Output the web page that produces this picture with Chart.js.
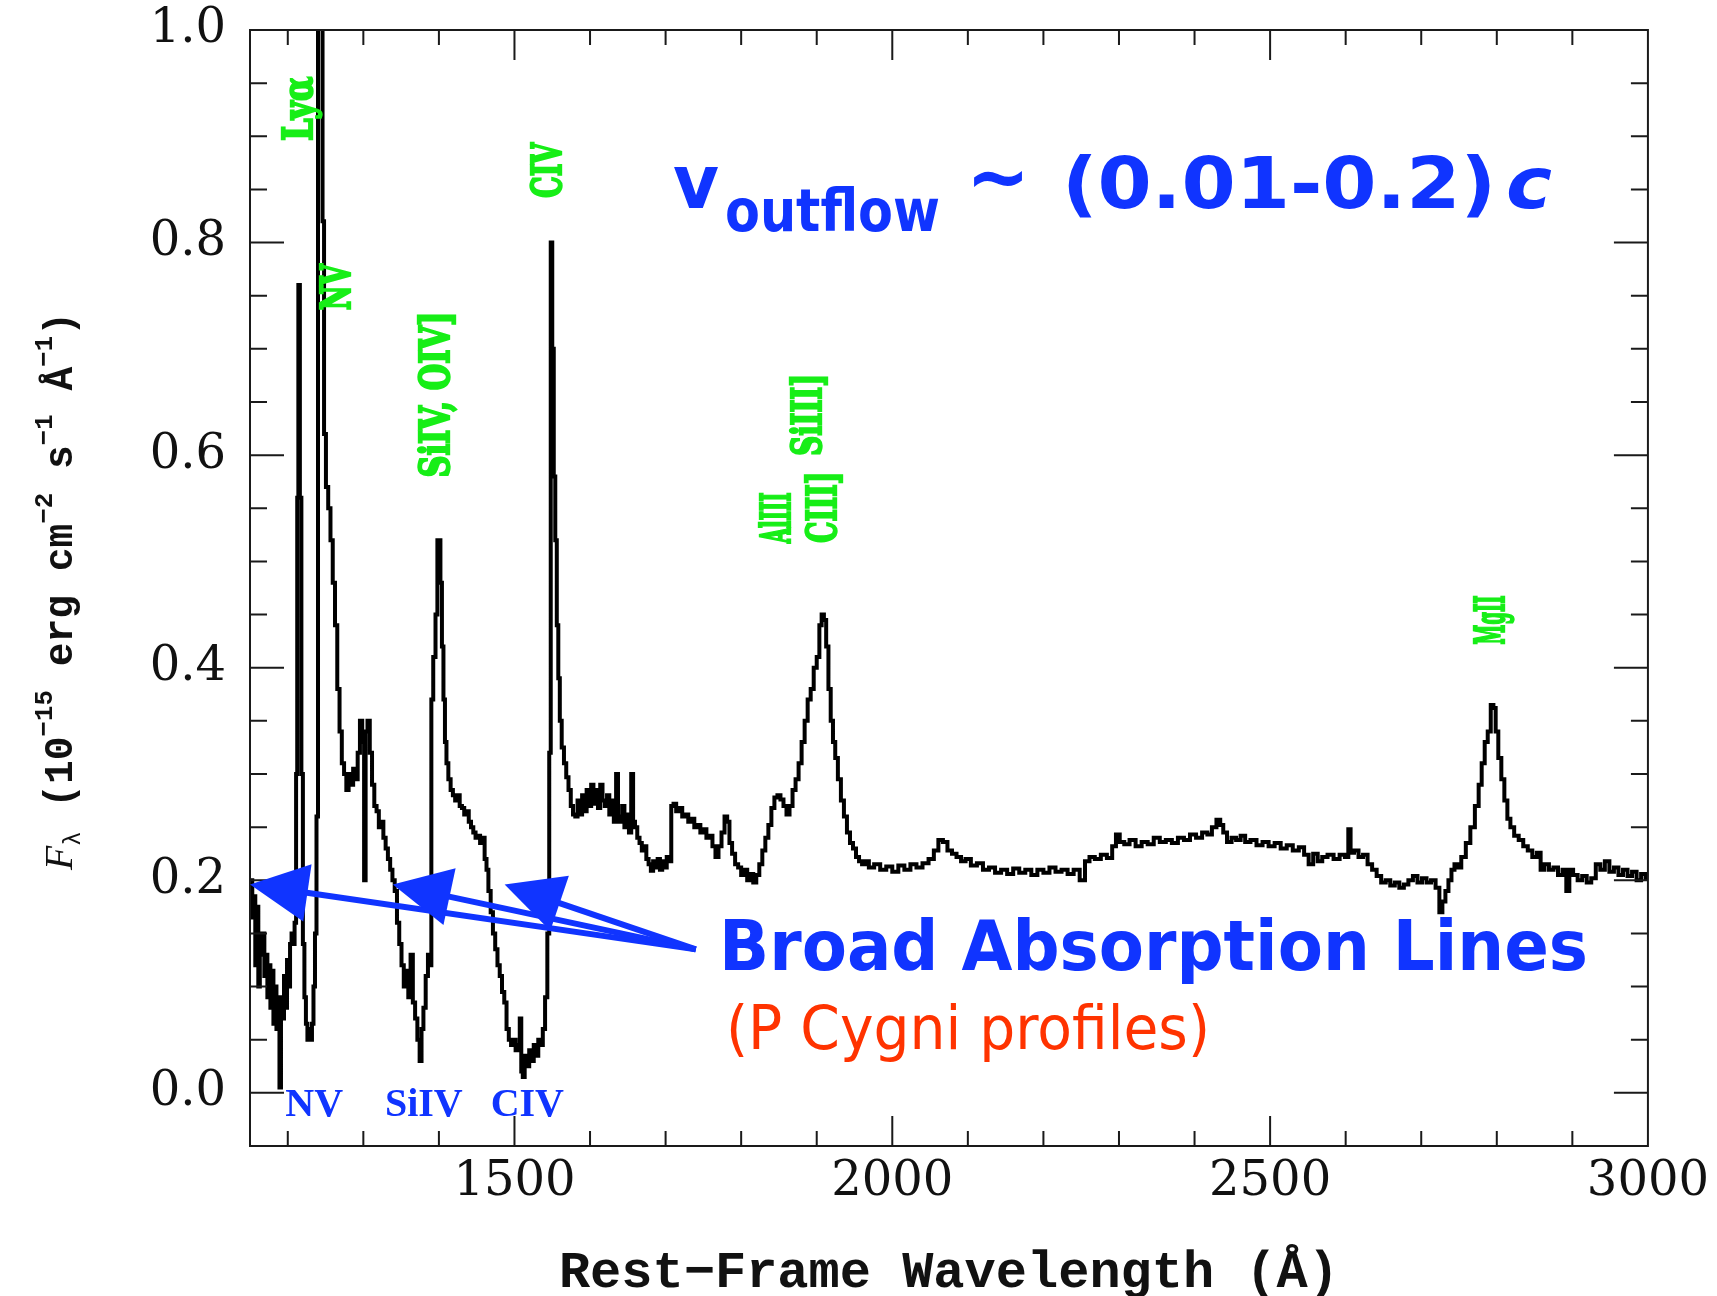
<!DOCTYPE html>
<html>
<head>
<meta charset="utf-8">
<title>BAL quasar spectrum</title>
<script src="https://cdn.jsdelivr.net/npm/chart.js@4.4.1/dist/chart.umd.min.js"></script>
<style>
  html, body { margin: 0; padding: 0; background: #fff; }
  canvas { display: block; }
</style>
</head>
<body>
<canvas id="specChart" width="1717" height="1296"></canvas>
<script>
// Rest-frame spectrum, split by region. Wavelength in Å, flux in 1e-15 erg/cm2/s/Å.
const waveLyaNV = [
  1150,1152,1154,1156,1158,1160,1162,1164,1166,1168,
  1170,1172,1174,1176,1178,1180,1182,1184,1186,1188,
  1190,1192,1194,1196,1198,1200,1202,1204,1206,1208,
  1210,1212,1213,1215,1217,1219,1221,1223,1225,1227,
  1229,1231,1233,1235,1237,1239,1241,1243,1245,1247,
  1249,1252,1255,1258,1261,1264,1267,1270,1273,1276,
  1279,1282,1285,1288,1291,1294,1297,1300,1302,1304,
  1307,1310
];
const fluxLyaNV = [
  0.175,0.20,0.165,0.185,0.12,0.175,0.10,0.15,0.13,0.15,
  0.11,0.13,0.09,0.12,0.08,0.115,0.065,0.10,0.06,0.09,
  0.005,0.09,0.07,0.11,0.08,0.125,0.10,0.14,0.15,0.14,
  0.16,0.30,0.56,0.76,0.56,0.30,0.14,0.09,0.065,0.05,
  0.06,0.05,0.065,0.10,0.15,0.26,1.2,1.2,1.1,0.82,
  0.62,0.57,0.55,0.52,0.48,0.44,0.38,0.34,0.31,0.30,
  0.285,0.30,0.29,0.305,0.295,0.32,0.35,0.33,0.20,0.34,
  0.35,0.32
];

const waveSiIV = [
  1313,1316,1319,1322,1325,1328,1331,1334,1337,1340,
  1343,1346,1349,1352,1355,1358,1361,1364,1367,1370,
  1373,1376,1378,1381,1384,1387,1389,1391,1394,1397,
  1399,1401,1403,1405,1407,1409,1411,1414,1417,1420,
  1423,1426,1429,1432,1435,1438,1441,1444,1447,1450,
  1453,1456,1459,1462,1464,1467,1470,1473,1476,1479,
  1482,1485,1488,1491,1494,1497,1500,1503,1506,1508,
  1510,1512,1515,1518,1521,1524,1527,1530,1533,1536,
  1539,1542,1545
];
const fluxSiIV = [
  0.29,0.27,0.265,0.25,0.255,0.24,0.23,0.22,0.21,0.20,
  0.19,0.16,0.14,0.12,0.10,0.115,0.09,0.13,0.085,0.07,
  0.05,0.03,0.06,0.08,0.11,0.13,0.12,0.37,0.41,0.45,
  0.52,0.52,0.48,0.42,0.37,0.33,0.31,0.295,0.285,0.28,
  0.275,0.28,0.27,0.268,0.262,0.265,0.255,0.25,0.245,0.24,
  0.242,0.235,0.24,0.22,0.21,0.19,0.17,0.15,0.135,0.12,
  0.11,0.095,0.085,0.06,0.05,0.045,0.05,0.04,0.045,0.07,
  0.02,0.015,0.035,0.025,0.04,0.03,0.045,0.035,0.05,0.045,
  0.06,0.09,0.15
];

const waveCIV = [
  1547,1549,1551,1553,1555,1557,1559,1561,1564,1567,
  1570,1573,1576,1579,1582,1585,1588,1591,1594,1597,
  1600,1603,1606,1609,1612,1615,1618,1621,1624,1627,
  1630,1633,1636,1638,1641,1644,1647,1650,1653,1656,
  1658,1661,1664,1667,1670,1673,1676,1679,1682,1685,
  1688,1691,1694,1697,1700,1703,1706
];
const fluxCIV = [
  0.32,0.80,0.70,0.58,0.52,0.44,0.39,0.35,0.325,0.31,
  0.297,0.285,0.27,0.262,0.26,0.275,0.262,0.28,0.265,0.285,
  0.27,0.29,0.272,0.285,0.268,0.29,0.275,0.27,0.28,0.262,
  0.275,0.255,0.30,0.26,0.255,0.27,0.25,0.262,0.245,0.30,
  0.255,0.25,0.24,0.235,0.228,0.232,0.22,0.215,0.209,0.218,
  0.212,0.22,0.21,0.218,0.212,0.222,0.218
];

const waveCIII = [
  1709,1712,1716,1720,1724,1728,1732,1736,1740,1744,
  1748,1752,1756,1760,1764,1768,1772,1776,1780,1783,
  1786,1790,1794,1798,1802,1806,1810,1814,1818,1822,
  1826,1830,1834,1838,1842,1846,1850,1854,1858,1862,
  1866,1870,1874,1878,1882,1886,1890,1894,1898,1902,
  1905,1908,1911,1914,1917,1920,1923,1926,1930,1934,
  1938,1942,1946,1950,1954,1958,1962,1966
];
const fluxCIII = [
  0.27,0.272,0.265,0.268,0.26,0.262,0.255,0.258,0.25,0.252,
  0.245,0.248,0.24,0.242,0.232,0.222,0.232,0.245,0.26,0.255,
  0.235,0.225,0.215,0.212,0.205,0.21,0.20,0.206,0.198,0.205,
  0.215,0.228,0.24,0.252,0.268,0.278,0.28,0.276,0.27,0.262,
  0.27,0.285,0.295,0.31,0.33,0.35,0.37,0.38,0.40,0.41,
  0.44,0.45,0.445,0.42,0.38,0.35,0.33,0.315,0.295,0.275,
  0.26,0.245,0.235,0.23,0.222,0.218,0.215,0.218
];

const waveMid = [
  1972,1980,1988,1996,2004,2012,2020,2028,2036,2044,
  2052,2058,2064,2070,2076,2082,2088,2094,2100,2108,
  2116,2124,2132,2140,2148,2156,2164,2172,2180,2188,
  2196,2204,2212,2220,2228,2236,2244,2252,2258,2264,
  2272,2280,2288,2294,2298,2304,2310,2318,2326,2334,
  2342,2350,2358,2366,2374,2382,2390,2398,2406,2414,
  2420,2426,2432,2436,2440,2446,2452,2458,2464,2470,
  2478,2486,2494,2502,2510,2518,2526,2534,2542,2548,
  2554,2560,2566,2572,2580,2588,2596,2602,2605,2608,
  2614,2620,2626,2632,2638,2644,2650,2656,2662,2668,
  2674,2680,2686,2692,2698,2704,2710,2716,2722,2726,
  2730,2734,2738,2742,2746
];
const fluxMid = [
  0.212,0.215,0.21,0.213,0.208,0.214,0.21,0.215,0.212,0.216,
  0.22,0.228,0.238,0.236,0.228,0.225,0.222,0.218,0.22,0.214,
  0.216,0.21,0.212,0.207,0.21,0.206,0.211,0.207,0.21,0.205,
  0.21,0.207,0.212,0.208,0.21,0.206,0.21,0.20,0.218,0.222,
  0.22,0.224,0.221,0.232,0.243,0.236,0.234,0.238,0.232,0.236,
  0.234,0.24,0.236,0.238,0.235,0.24,0.238,0.243,0.24,0.245,
  0.243,0.25,0.257,0.252,0.245,0.236,0.24,0.238,0.242,0.236,
  0.238,0.233,0.236,0.232,0.235,0.23,0.233,0.228,0.231,0.224,
  0.215,0.225,0.218,0.222,0.224,0.22,0.224,0.222,0.248,0.226,
  0.228,0.222,0.224,0.215,0.21,0.204,0.198,0.20,0.195,0.198,
  0.193,0.196,0.20,0.204,0.198,0.202,0.198,0.20,0.193,0.17,
  0.18,0.19,0.20,0.21,0.215
];

const waveMgII = [
  2750,2756,2762,2768,2774,2778,2782,2786,2790,2794,
  2797,2800,2804,2808,2812,2816,2820,2826,2832,2838,
  2844,2850,2856,2860,2866,2872,2878,2884,2890,2894,
  2898,2904,2910,2916,2922,2928,2934,2940,2946,2952,
  2958,2964,2970,2976,2982,2988,2994,3000
];
const fluxMgII = [
  0.212,0.222,0.235,0.25,0.27,0.29,0.31,0.33,0.34,0.365,
  0.362,0.34,0.315,0.295,0.275,0.258,0.25,0.242,0.238,0.232,
  0.228,0.222,0.226,0.21,0.215,0.21,0.212,0.205,0.21,0.19,
  0.21,0.205,0.20,0.204,0.198,0.202,0.215,0.21,0.218,0.208,
  0.212,0.205,0.21,0.204,0.208,0.20,0.206,0.202
];

// axis ticks
const xTicks = [1500, 2000, 2500, 3000];
const yTicks = [0, 0.2, 0.4, 0.6, 0.8, 1.0];

// emission line labels (rest wavelength of label, flux height of label centre)
const lineNames = ['Lyα', 'NV', 'SiIV, OIV]', 'CIV', 'AlIII', 'SiIII]', 'CIII]', 'MgII'];
const lineWaves = [1218, 1268, 1400, 1547, 1851, 1892, 1911, 2796];
const lineLabelFlux = [0.926, 0.758, 0.657, 0.868, 0.541, 0.638, 0.551, 0.445];

// absorption troughs
const troughNames = ['NV', 'SiIV', 'CIV'];
const troughWaves = [1235, 1380, 1517];
const arrowTipWaves = [1150, 1339, 1487];
const arrowTipFlux = 0.196;
const arrowStart = { wave: 1740, flux: 0.135 };

const wavelength = [...waveLyaNV, ...waveSiIV, ...waveCIV, ...waveCIII, ...waveMid, ...waveMgII];
const flux = [...fluxLyaNV, ...fluxSiIV, ...fluxCIV, ...fluxCIII, ...fluxMid, ...fluxMgII];

const BLUE = '#1034ff';
const GREEN = '#17ee17';
const RED = '#ff3300';

// draws text squeezed/stretched to a given width
function fitText(ctx, text, x, y, width, font, color) {
  ctx.save();
  ctx.font = font;
  const w = ctx.measureText(text).width;
  ctx.translate(x, y);
  ctx.scale(width / w, 1);
  ctx.fillStyle = color;
  ctx.textAlign = 'left';
  ctx.textBaseline = 'alphabetic';
  ctx.fillText(text, 0, 0);
  ctx.restore();
}

// frame with inward ticks on all four sides
const framePlugin = {
  id: 'frame',
  afterDatasetsDraw(chart) {
    const { ctx, chartArea: a, scales: { x, y } } = chart;
    ctx.save();
    ctx.strokeStyle = '#1a1a1a';
    ctx.lineWidth = 2;
    ctx.beginPath();
    for (let w = 1200; w < 3000; w += 100) {
      const px = x.getPixelForValue(w);
      const len = w % 500 === 0 ? 30 : 15;
      ctx.moveTo(px, a.bottom); ctx.lineTo(px, a.bottom - len);
      ctx.moveTo(px, a.top); ctx.lineTo(px, a.top + len);
    }
    for (let i = 0; i < 20; i++) {
      const py = y.getPixelForValue(i * 0.05);
      const len = i % 4 === 0 ? 34 : 17;
      ctx.moveTo(a.left, py); ctx.lineTo(a.left + len, py);
      ctx.moveTo(a.right, py); ctx.lineTo(a.right - len, py);
    }
    ctx.stroke();
    ctx.strokeRect(a.left, a.top, a.right - a.left, a.bottom - a.top);
    ctx.restore();
  }
};

const annotationPlugin = {
  id: 'annotations',
  afterDatasetsDraw(chart) {
    const { ctx, chartArea: a, scales: { x, y } } = chart;

    // green line identifications, rotated
    const labelLengths = [64, 46, 166, 55, 51, 82, 71, 49];
    lineNames.forEach((name, i) => {
      ctx.save();
      ctx.font = "bold 28px 'DejaVu Serif'";
      const w = ctx.measureText(name).width;
      ctx.translate(x.getPixelForValue(lineWaves[i]), y.getPixelForValue(lineLabelFlux[i]));
      ctx.rotate(-Math.PI / 2);
      ctx.scale(labelLengths[i] / w, 1.45);
      ctx.fillStyle = GREEN;
      ctx.strokeStyle = GREEN;
      ctx.lineWidth = 1.6;
      ctx.textAlign = 'center';
      ctx.textBaseline = 'middle';
      ctx.fillText(name, 0, 0);
      ctx.strokeText(name, 0, 0);
      ctx.restore();
    });

    // trough names along the bottom
    ctx.save();
    ctx.font = "bold 40px 'Liberation Serif'";
    ctx.fillStyle = BLUE;
    ctx.textAlign = 'center';
    ctx.textBaseline = 'alphabetic';
    troughNames.forEach((name, i) => {
      ctx.fillText(name, x.getPixelForValue(troughWaves[i]), y.getPixelForValue(-0.022));
    });
    ctx.restore();

    // arrows to the troughs
    const sx = x.getPixelForValue(arrowStart.wave);
    const sy = y.getPixelForValue(arrowStart.flux);
    ctx.save();
    ctx.fillStyle = BLUE;
    ctx.strokeStyle = BLUE;
    ctx.lineWidth = 6;
    arrowTipWaves.forEach(w => {
      const tx = x.getPixelForValue(w);
      const ty = y.getPixelForValue(arrowTipFlux);
      const dx = tx - sx, dy = ty - sy;
      const len = Math.hypot(dx, dy);
      const ux = dx / len, uy = dy / len;
      const bx = tx - ux * 58, by = ty - uy * 58;
      ctx.beginPath();
      ctx.moveTo(sx, sy);
      ctx.lineTo(bx + ux * 4, by + uy * 4);
      ctx.stroke();
      ctx.beginPath();
      ctx.moveTo(tx, ty);
      ctx.lineTo(bx - uy * 29, by + ux * 29);
      ctx.lineTo(bx + uy * 29, by - ux * 29);
      ctx.closePath();
      ctx.fill();
    });
    ctx.restore();

    // text blocks
    fitText(ctx, 'v', 673, 208, 46, "bold 74px 'DejaVu Sans'", BLUE);
    fitText(ctx, 'outflow', 725, 231, 215, "bold 58px 'DejaVu Sans'", BLUE);
    fitText(ctx, '~', 966, 204, 64, "bold 80px 'DejaVu Sans'", BLUE);
    fitText(ctx, '(0.01-0.2)', 1062, 208, 434, "bold 72px 'DejaVu Sans'", BLUE);
    fitText(ctx, 'c', 1506, 208, 46, "bold italic 72px 'DejaVu Sans'", BLUE);
    fitText(ctx, 'Broad Absorption Lines', 719, 970, 869, "bold 70px 'DejaVu Sans'", BLUE);
    fitText(ctx, '(P Cygni profiles)', 726, 1049, 484, "60px 'DejaVu Sans'", RED);

    // axis titles
    ctx.save();
    ctx.fillStyle = '#111';
    ctx.font = "bold 52px 'Liberation Mono'";
    ctx.textAlign = 'center';
    ctx.textBaseline = 'alphabetic';
    ctx.fillText('Rest\u2212Frame Wavelength (Å)', (a.left + a.right) / 2, 1287);
    ctx.restore();

    const parts = [
      { t: 'F', font: "italic 40px 'Liberation Serif'", dy: 0 },
      { t: 'λ', font: "24px 'Liberation Mono'", dy: 8 },
      { t: ' (10', font: "bold 40px 'Liberation Mono'", dy: 0 },
      { t: '\u221215', font: "bold 26px 'Liberation Mono'", dy: -20 },
      { t: ' erg cm', font: "bold 40px 'Liberation Mono'", dy: 0 },
      { t: '\u22122', font: "bold 26px 'Liberation Mono'", dy: -20 },
      { t: ' s', font: "bold 40px 'Liberation Mono'", dy: 0 },
      { t: '\u22121', font: "bold 26px 'Liberation Mono'", dy: -20 },
      { t: ' Å', font: "bold 40px 'Liberation Mono'", dy: 0 },
      { t: '\u22121', font: "bold 26px 'Liberation Mono'", dy: -20 },
      { t: ')', font: "bold 40px 'Liberation Mono'", dy: 0 }
    ];
    ctx.save();
    let total = 0;
    parts.forEach(p => { ctx.font = p.font; p.w = ctx.measureText(p.t).width; total += p.w; });
    ctx.translate(72, 591);
    ctx.rotate(-Math.PI / 2);
    ctx.scale(558 / total, 1);
    ctx.fillStyle = '#111';
    ctx.textAlign = 'left';
    ctx.textBaseline = 'alphabetic';
    let cx = -total / 2;
    parts.forEach(p => {
      ctx.font = p.font;
      ctx.fillText(p.t, cx, p.dy);
      cx += p.w;
    });
    ctx.restore();
  }
};

const ctx = document.getElementById('specChart').getContext('2d');
new Chart(ctx, {
  type: 'line',
  data: {
    datasets: [{
      data: wavelength.map((w, i) => ({ x: w, y: flux[i] })),
      borderColor: '#000',
      borderWidth: 4,
      pointRadius: 0,
      stepped: 'middle',
      fill: false
    }]
  },
  options: {
    responsive: false,
    devicePixelRatio: 1,
    animation: false,
    parsing: false,
    layout: { padding: { top: 30, right: 62, left: 0, bottom: 0 } },
    plugins: { legend: { display: false }, tooltip: { enabled: false } },
    scales: {
      x: {
        type: 'linear',
        min: 1150,
        max: 3000,
        grid: { display: false, drawTicks: false },
        border: { display: false },
        afterBuildTicks: scale => { scale.ticks = xTicks.map(v => ({ value: v })); },
        afterFit: scale => { scale.height = 150; },
        ticks: {
          padding: 8,
          maxRotation: 0,
          color: '#111',
          font: { family: "'DejaVu Serif'", size: 48 },
          callback: v => String(v)
        }
      },
      y: {
        min: -0.05,
        max: 1.0,
        grid: { display: false, drawTicks: false },
        border: { display: false },
        afterBuildTicks: scale => { scale.ticks = yTicks.map(v => ({ value: v })); },
        afterFit: scale => {
          scale.width = 250;
          scale.paddingTop = 0;
          scale.paddingBottom = 0;
        },
        ticks: {
          padding: 24,
          color: '#111',
          font: { family: "'DejaVu Serif'", size: 48 },
          callback: v => v.toFixed(1)
        }
      }
    }
  },
  plugins: [framePlugin, annotationPlugin]
});
</script>
</body>
</html>
